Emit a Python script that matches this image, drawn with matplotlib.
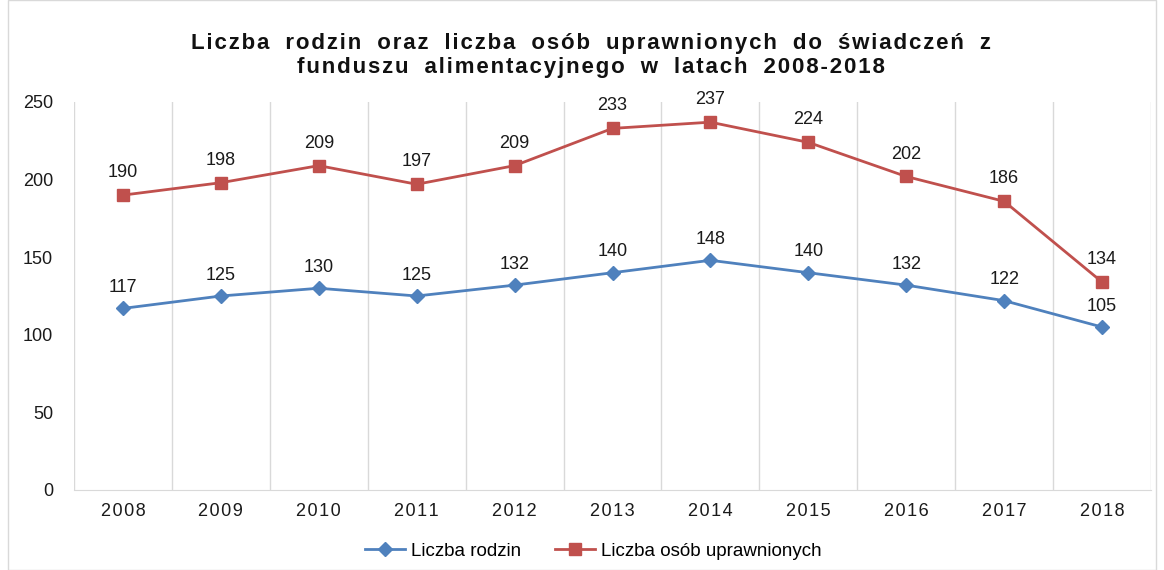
import matplotlib
matplotlib.use("Agg")
import matplotlib.pyplot as plt
from matplotlib.lines import Line2D
from matplotlib.patches import Rectangle

years = ["2008", "2009", "2010", "2011", "2012", "2013", "2014", "2015", "2016", "2017", "2018"]
rodziny = [117, 125, 130, 125, 132, 140, 148, 140, 132, 122, 105]
osoby = [190, 198, 209, 197, 209, 233, 237, 224, 202, 186, 134]
series_names = ["Liczba rodzin", "Liczba osób uprawnionych"]
title_lines = ["Liczba rodzin oraz liczba osób uprawnionych do świadczeń z",
               "funduszu alimentacyjnego w latach 2008-2018"]

BLUE = "#4F81BD"
RED = "#C0504D"
plt.rcParams['font.family'] = ['Liberation Sans', 'DejaVu Sans']

def spaced(s, sp="\u2009", wsp=None):
    if wsp is None:
        wsp = sp + sp
    out = []
    for ch in s:
        out.append(ch)
        out.append(sp if ch != " " else wsp)
    return "".join(out).rstrip(sp)

fig = plt.figure(figsize=(11.64, 5.70), dpi=100)
ax = fig.add_axes([74/1164, 1-490/570, (1151-74)/1164, (490-102)/570])

x = list(range(len(years)))
ax.plot(x, rodziny, color=BLUE, lw=2, marker="D", ms=7, mec=BLUE, mfc=BLUE, zorder=3)
ax.plot(x, osoby, color=RED, lw=2, marker="s", ms=9, mec=RED, mfc=RED, zorder=3)
for xi, v in zip(x, rodziny):
    ax.annotate(str(v), (xi, v), xytext=(0, 9), textcoords="offset points",
                ha="center", va="bottom", fontsize=13, color="#1a1a1a")
for xi, v in zip(x, osoby):
    ax.annotate(str(v), (xi, v), xytext=(0, 10), textcoords="offset points",
                ha="center", va="bottom", fontsize=13, color="#1a1a1a")

ax.set_xlim(-0.5, len(years) - 0.5)
ax.set_ylim(0, 250)
ax.set_yticks([0, 50, 100, 150, 200, 250])
ax.set_xticks(x)
ax.set_xticklabels([spaced(y, "\u200a") for y in years], fontsize=13, color="#1a1a1a")
ax.tick_params(axis="y", labelsize=13, labelcolor="#1a1a1a", length=0, pad=15)
ax.tick_params(axis="x", length=0, pad=9)
for b in [i - 0.5 for i in range(len(years) + 1)]:
    ax.axvline(b, color="#D9D9D9", lw=1, zorder=0)
for s in ["top", "right", "left"]:
    ax.spines[s].set_visible(False)
ax.spines["bottom"].set_color("#D9D9D9")

fig.text(0.508, 1-43/570, spaced(title_lines[0], "\u200a", " \u200a"), ha="center", va="center",
         fontsize=16, fontweight="bold", color="#111111")
fig.text(0.508, 1-68/570, spaced(title_lines[1], "\u200a", " \u200a"), ha="center", va="center",
         fontsize=16, fontweight="bold", color="#111111")

handles = [Line2D([], [], color=BLUE, lw=2, marker="D", ms=7),
           Line2D([], [], color=RED, lw=2, marker="s", ms=9)]
fig.legend(handles, series_names, loc="center", bbox_to_anchor=(0.51, 1-551/570),
           ncol=2, frameon=False, fontsize=13.5, handlelength=2.1, handletextpad=0.35,
           columnspacing=1.8)

fig.add_artist(Rectangle((8/1164, 0), 1-16/1164, 1, transform=fig.transFigure,
                         fill=False, edgecolor="#D9D9D9", lw=1))
fig.savefig("out.png", dpi=100)
